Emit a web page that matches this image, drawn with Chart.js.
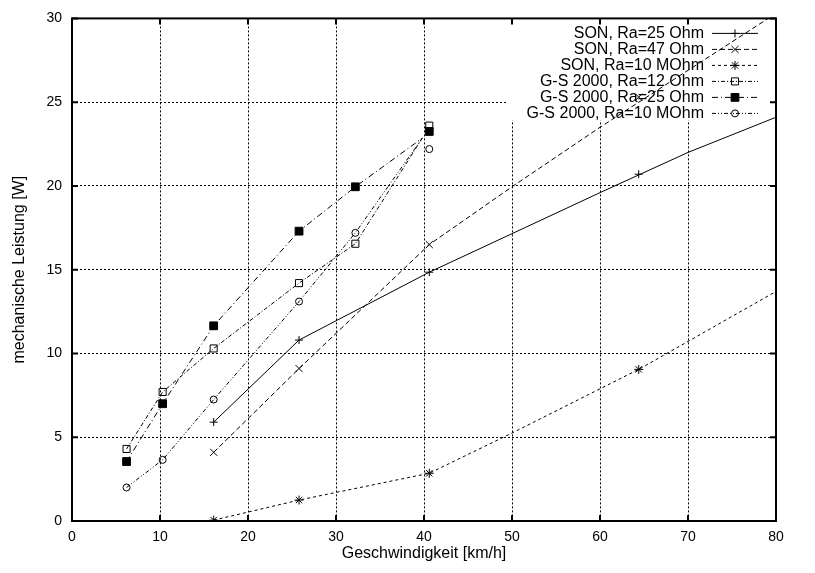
<!DOCTYPE html>
<html>
<head>
<meta charset="utf-8">
<script src="https://cdn.jsdelivr.net/npm/chart.js@4.4.1/dist/chart.umd.min.js"></script>
<style>
  html, body { margin: 0; padding: 0; background: #fff; }
  #wrap { width: 815px; height: 573px; }
</style>
</head>
<body>
<div id="wrap"><canvas id="chart" width="815" height="573"></canvas></div>
<script>
const seriesNames = [
  'SON, Ra=25 Ohm',
  'SON, Ra=47 Ohm',
  'SON, Ra=10 MOhm',
  'G-S 2000, Ra=12 Ohm',
  'G-S 2000, Ra=25 Ohm',
  'G-S 2000, Ra=10 MOhm'
]

// Messpunkte (km/h, W)
const speedSon = [16.1, 25.8, 40.6, 64.4]
const son25 = [5.9, 10.8, 14.85, 20.7]
const son47 = [4.1, 9.1, 16.5, 25.3]
const son10M = [0.05, 1.25, 2.85, 9.05]

const speedGs = [6.2, 10.3, 16.1, 25.8, 32.2, 40.6]
const gs12 = [4.3, 7.7, 10.3, 14.2, 16.55, 23.6]
const gs25 = [3.55, 7.0, 11.65, 17.3, 19.95, 23.25]
const gs10M = [2.0, 3.65, 7.25, 13.1, 17.2, 22.2]

// Kurven
const curveSonX = [16.1, 25.8, 40.6, 50, 60, 70, 80]
const curveSon25 = [5.9, 10.8, 14.85, 17.15, 19.6, 22.0, 24.1]
const curveSon47 = [4.1, 9.1, 16.5, 19.95, 23.5, 26.9, 30.3]
const curveSon10MX = [16.1, 25.8, 40.6, 50, 64.4, 80]
const curveSon10M = [0.05, 1.25, 2.85, 5.25, 9.05, 13.7]
const curveGsX = [6.2, 10.3, 16.1, 25.8, 32.2, 39.8]
const curveGs12 = [4.3, 7.7, 10.3, 14.2, 16.55, 22.85]
const curveGs25 = [3.55, 7.0, 11.65, 17.3, 19.95, 22.85]
const curveGs10M = [2.0, 3.65, 7.25, 13.1, 17.2, 22.85]

const xTicks = [0, 10, 20, 30, 40, 50, 60, 70, 80]
const yTicks = [0, 5, 10, 15, 20, 25, 30]

const FONT = '"Liberation Sans", Arial, Helvetica, sans-serif'

const styles = [
  { dash: [], point: 'cross', radius: 4, fill: false },
  { dash: [5, 3], point: 'crossRot', radius: 5, fill: false },
  { dash: [3, 3], point: 'star', radius: 4.5, fill: false },
  { dash: [4, 2, 1, 2], point: 'rect', radius: 5, fill: false },
  { dash: [6, 3, 1, 3], point: 'rect', radius: 5.5, fill: true },
  { dash: [4, 2, 1, 2, 1, 2], point: 'circle', radius: 3.5, fill: false }
]

const curves = [
  [curveSonX, curveSon25],
  [curveSonX, curveSon47],
  [curveSon10MX, curveSon10M],
  [curveGsX, curveGs12],
  [curveGsX, curveGs25],
  [curveGsX, curveGs10M]
]
const points = [
  [speedSon, son25],
  [speedSon, son47],
  [speedSon, son10M],
  [speedGs, gs12],
  [speedGs, gs25],
  [speedGs, gs10M]
]

function xy(xs, ys) {
  return xs.map((x, i) => ({ x: x, y: ys[i] }))
}

const datasets = []
seriesNames.forEach((name, i) => {
  const st = styles[i]
  datasets.push({
    label: name,
    data: xy(curves[i][0], curves[i][1]),
    showLine: true,
    borderColor: '#000',
    borderWidth: 1,
    borderDash: st.dash,
    pointRadius: 0,
    tension: 0
  })
  datasets.push({
    label: name + ' (Punkte)',
    data: xy(points[i][0], points[i][1]),
    showLine: false,
    pointStyle: st.point,
    pointRadius: st.radius,
    pointBorderColor: '#000',
    pointBorderWidth: 1,
    pointBackgroundColor: st.fill ? '#000' : 'rgba(0,0,0,0)'
  })
})

// gnuplot-Rahmen, Tics innen und Key
const gnuplotLook = {
  id: 'gnuplotLook',
  beforeDatasetsDraw(chart) {
    const { ctx, chartArea: a } = chart
    ctx.save()
    ctx.fillStyle = '#fff'
    ctx.fillRect(a.right - 269, a.top, 269, 102)
    ctx.restore()
  },
  afterDatasetsDraw(chart) {
    const { ctx, chartArea: a, scales } = chart
    ctx.save()
    ctx.strokeStyle = '#000'
    ctx.lineWidth = 2
    ctx.setLineDash([])
    ctx.strokeRect(a.left, a.top, a.right - a.left, a.bottom - a.top)

    const tl = 6
    ctx.beginPath()
    xTicks.forEach(v => {
      const px = scales.x.getPixelForValue(v)
      ctx.moveTo(px, a.bottom); ctx.lineTo(px, a.bottom - tl)
      ctx.moveTo(px, a.top); ctx.lineTo(px, a.top + tl)
    })
    yTicks.forEach(v => {
      const py = scales.y.getPixelForValue(v)
      ctx.moveTo(a.left, py); ctx.lineTo(a.left + tl, py)
      ctx.moveTo(a.right, py); ctx.lineTo(a.right - tl, py)
    })
    ctx.stroke()

    // Key
    ctx.font = '16px ' + FONT
    ctx.fillStyle = '#000'
    ctx.textAlign = 'right'
    ctx.textBaseline = 'middle'
    seriesNames.forEach((name, i) => {
      const st = styles[i]
      const y = a.top + 15 + i * 16
      ctx.fillText(name, a.right - 72, y)
      ctx.lineWidth = 1
      ctx.setLineDash(st.dash)
      ctx.beginPath()
      ctx.moveTo(a.right - 64, y)
      ctx.lineTo(a.right - 18, y)
      ctx.stroke()
      ctx.setLineDash([])
      ctx.fillStyle = st.fill ? '#000' : 'rgba(0,0,0,0)'
      Chart.helpers.drawPoint(ctx, {
        pointStyle: st.point, radius: st.radius, rotation: 0, borderWidth: 1
      }, a.right - 41, y)
      ctx.fillStyle = '#000'
    })
    ctx.restore()
  }
}

const ctx = document.getElementById('chart').getContext('2d')
new Chart(ctx, {
  type: 'scatter',
  data: { datasets: datasets },
  options: {
    responsive: false,
    animation: false,
    devicePixelRatio: 1,
    layout: { padding: { left: 0, top: 17, right: 39, bottom: 0 } },
    plugins: {
      legend: { display: false },
      tooltip: { enabled: false }
    },
    scales: {
      x: {
        type: 'linear',
        min: xTicks[0],
        max: xTicks[xTicks.length - 1],
        ticks: { stepSize: xTicks[1] - xTicks[0], color: '#000', font: { family: FONT, size: 14 }, padding: 8 },
        grid: { color: '#000', lineWidth: 1, drawTicks: false },
        border: { display: false, dash: [2, 2] },
        title: { display: true, text: 'Geschwindigkeit [km/h]', color: '#000', font: { family: FONT, size: 16 }, padding: { top: 0, bottom: 10 } },
        afterFit(s) { s.height = 52 }
      },
      y: {
        type: 'linear',
        min: yTicks[0],
        max: yTicks[yTicks.length - 1],
        ticks: { stepSize: yTicks[1] - yTicks[0], color: '#000', font: { family: FONT, size: 14 }, padding: 10 },
        grid: { color: '#000', lineWidth: 1, drawTicks: false },
        border: { display: false, dash: [2, 2] },
        title: { display: true, text: 'mechanische Leistung [W]', color: '#000', font: { family: FONT, size: 16 }, padding: { top: 10, bottom: 0 } },
        afterFit(s) { s.width = 72 }
      }
    }
  },
  plugins: [gnuplotLook]
})
</script>
</body>
</html>
